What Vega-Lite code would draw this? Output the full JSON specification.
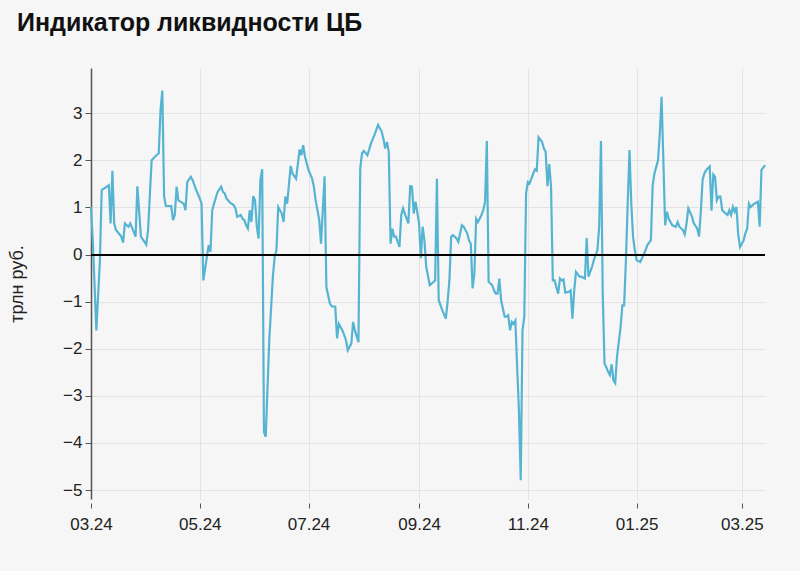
{
  "$schema": "https://vega.github.io/schema/vega-lite/v6.json",
  "width": 674,
  "height": 431,
  "autosize": {"type": "none"},
  "padding": {"left": 91, "top": 68, "right": 35, "bottom": 72},
  "background": "#f6f6f6",
  "title": {
    "text": "Индикатор ликвидности ЦБ",
    "anchor": "start",
    "frame": "group",
    "dx": -74,
    "offset": 12,
    "baseline": "alphabetic",
    "font": "Liberation Sans",
    "fontSize": 25,
    "fontWeight": "bold",
    "color": "#111111"
  },
  "config": {
    "view": {"stroke": null},
    "font": "Liberation Sans",
    "axis": {
      "labelFont": "Liberation Sans",
      "titleFont": "Liberation Sans",
      "labelColor": "#222222",
      "titleColor": "#222222",
      "gridColor": "#e3e3e3",
      "gridWidth": 1,
      "tickColor": "#555555",
      "domainColor": "#555555"
    }
  },
  "data": {
    "values": [
      {"d":"2024-03-01","v":1.01},{"d":"2024-03-02","v":0.30},{"d":"2024-03-04","v":-1.61},{"d":"2024-03-06","v":-0.12},
      {"d":"2024-03-07","v":1.37},{"d":"2024-03-11","v":1.47},{"d":"2024-03-12","v":0.66},{"d":"2024-03-13","v":1.78},
      {"d":"2024-03-14","v":0.66},{"d":"2024-03-15","v":0.52},{"d":"2024-03-18","v":0.38},{"d":"2024-03-19","v":0.25},
      {"d":"2024-03-20","v":0.66},{"d":"2024-03-22","v":0.59},{"d":"2024-03-23","v":0.66},{"d":"2024-03-25","v":0.48},
      {"d":"2024-03-26","v":0.38},{"d":"2024-03-27","v":1.45},{"d":"2024-03-29","v":0.38},{"d":"2024-03-31","v":0.27},
      {"d":"2024-04-01","v":0.21},{"d":"2024-04-02","v":0.52},{"d":"2024-04-04","v":2.0},{"d":"2024-04-06","v":2.08},
      {"d":"2024-04-08","v":2.15},{"d":"2024-04-09","v":3.07},{"d":"2024-04-10","v":3.48},{"d":"2024-04-11","v":1.23},
      {"d":"2024-04-12","v":1.03},{"d":"2024-04-15","v":1.03},{"d":"2024-04-16","v":0.73},{"d":"2024-04-17","v":0.84},
      {"d":"2024-04-18","v":1.44},{"d":"2024-04-19","v":1.15},{"d":"2024-04-22","v":1.08},{"d":"2024-04-23","v":0.94},
      {"d":"2024-04-24","v":1.54},{"d":"2024-04-26","v":1.65},{"d":"2024-04-27","v":1.58},{"d":"2024-04-29","v":1.37},
      {"d":"2024-05-01","v":1.19},{"d":"2024-05-02","v":1.08},{"d":"2024-05-03","v":-0.55},{"d":"2024-05-05","v":-0.05},
      {"d":"2024-05-06","v":0.2},{"d":"2024-05-07","v":0.06},{"d":"2024-05-08","v":0.94},{"d":"2024-05-09","v":1.08},
      {"d":"2024-05-11","v":1.33},{"d":"2024-05-13","v":1.44},{"d":"2024-05-14","v":1.33},{"d":"2024-05-15","v":1.30},
      {"d":"2024-05-16","v":1.19},{"d":"2024-05-18","v":1.10},{"d":"2024-05-20","v":1.05},{"d":"2024-05-21","v":0.98},
      {"d":"2024-05-22","v":0.80},{"d":"2024-05-24","v":0.84},{"d":"2024-05-25","v":0.76},{"d":"2024-05-26","v":0.73},
      {"d":"2024-05-27","v":0.62},{"d":"2024-05-28","v":0.55},{"d":"2024-05-29","v":0.94},{"d":"2024-05-30","v":0.69},
      {"d":"2024-05-31","v":1.24},{"d":"2024-06-01","v":1.15},{"d":"2024-06-02","v":0.59},{"d":"2024-06-03","v":0.34},
      {"d":"2024-06-04","v":1.58},{"d":"2024-06-05","v":1.81},{"d":"2024-06-06","v":-3.77},{"d":"2024-06-07","v":-3.87},
      {"d":"2024-06-09","v":-1.8},{"d":"2024-06-11","v":-0.47},{"d":"2024-06-12","v":-0.05},{"d":"2024-06-13","v":0.09},
      {"d":"2024-06-14","v":1.01},{"d":"2024-06-16","v":0.87},{"d":"2024-06-17","v":0.69},{"d":"2024-06-18","v":1.23},
      {"d":"2024-06-19","v":1.08},{"d":"2024-06-21","v":1.88},{"d":"2024-06-22","v":1.72},{"d":"2024-06-24","v":1.61},
      {"d":"2024-06-26","v":2.23},{"d":"2024-06-27","v":2.11},{"d":"2024-06-28","v":2.32},{"d":"2024-06-29","v":2.08},
      {"d":"2024-07-01","v":1.79},{"d":"2024-07-03","v":1.61},{"d":"2024-07-04","v":1.44},{"d":"2024-07-05","v":1.15},
      {"d":"2024-07-07","v":0.73},{"d":"2024-07-08","v":0.23},{"d":"2024-07-10","v":1.66},{"d":"2024-07-11","v":-0.69},
      {"d":"2024-07-13","v":-1.04},{"d":"2024-07-14","v":-1.1},{"d":"2024-07-16","v":-1.11},{"d":"2024-07-17","v":-1.78},
      {"d":"2024-07-18","v":-1.47},{"d":"2024-07-20","v":-1.61},{"d":"2024-07-21","v":-1.71},{"d":"2024-07-22","v":-1.82},
      {"d":"2024-07-23","v":-2.03},{"d":"2024-07-25","v":-1.89},{"d":"2024-07-26","v":-1.43},{"d":"2024-07-27","v":-1.61},
      {"d":"2024-07-29","v":-1.86},{"d":"2024-07-30","v":1.83},{"d":"2024-07-31","v":2.15},{"d":"2024-08-01","v":2.2},
      {"d":"2024-08-03","v":2.11},{"d":"2024-08-04","v":2.23},{"d":"2024-08-05","v":2.36},{"d":"2024-08-07","v":2.54},
      {"d":"2024-08-09","v":2.75},{"d":"2024-08-11","v":2.61},{"d":"2024-08-12","v":2.46},{"d":"2024-08-13","v":2.25},
      {"d":"2024-08-14","v":2.39},{"d":"2024-08-15","v":2.18},{"d":"2024-08-16","v":0.23},{"d":"2024-08-17","v":0.55},
      {"d":"2024-08-18","v":0.38},{"d":"2024-08-19","v":0.38},{"d":"2024-08-21","v":0.16},{"d":"2024-08-22","v":0.84},
      {"d":"2024-08-23","v":0.98},{"d":"2024-08-24","v":0.87},{"d":"2024-08-26","v":0.66},{"d":"2024-08-27","v":1.45},
      {"d":"2024-08-28","v":1.44},{"d":"2024-08-29","v":0.87},{"d":"2024-08-30","v":1.12},{"d":"2024-09-01","v":0.66},
      {"d":"2024-09-02","v":-0.08},{"d":"2024-09-03","v":0.59},{"d":"2024-09-04","v":0.30},{"d":"2024-09-05","v":-0.26},
      {"d":"2024-09-07","v":-0.65},{"d":"2024-09-08","v":-0.62},{"d":"2024-09-10","v":-0.55},{"d":"2024-09-11","v":1.61},
      {"d":"2024-09-12","v":-0.97},{"d":"2024-09-14","v":-1.18},{"d":"2024-09-16","v":-1.36},{"d":"2024-09-17","v":-1.0},
      {"d":"2024-09-18","v":-0.55},{"d":"2024-09-19","v":0.38},{"d":"2024-09-20","v":0.41},{"d":"2024-09-22","v":0.34},
      {"d":"2024-09-23","v":0.27},{"d":"2024-09-25","v":0.62},{"d":"2024-09-26","v":0.59},{"d":"2024-09-28","v":0.45},
      {"d":"2024-09-29","v":0.30},{"d":"2024-09-30","v":0.23},{"d":"2024-10-01","v":-0.72},{"d":"2024-10-02","v":-0.40},
      {"d":"2024-10-03","v":0.76},{"d":"2024-10-04","v":0.69},{"d":"2024-10-06","v":0.84},{"d":"2024-10-07","v":0.94},
      {"d":"2024-10-08","v":1.12},{"d":"2024-10-09","v":2.41},{"d":"2024-10-10","v":-0.58},{"d":"2024-10-12","v":-0.65},
      {"d":"2024-10-13","v":-0.76},{"d":"2024-10-14","v":-0.83},{"d":"2024-10-15","v":-0.83},{"d":"2024-10-16","v":-0.51},
      {"d":"2024-10-17","v":-0.97},{"d":"2024-10-19","v":-1.32},{"d":"2024-10-20","v":-1.32},{"d":"2024-10-21","v":-1.29},
      {"d":"2024-10-22","v":-1.61},{"d":"2024-10-23","v":-1.43},{"d":"2024-10-24","v":-1.47},{"d":"2024-10-25","v":-1.40},
      {"d":"2024-10-26","v":-2.39},{"d":"2024-10-27","v":-3.31},{"d":"2024-10-28","v":-4.79},{"d":"2024-10-29","v":-1.61},
      {"d":"2024-10-30","v":-1.32},{"d":"2024-10-31","v":1.30},{"d":"2024-11-01","v":1.54},{"d":"2024-11-02","v":1.51},
      {"d":"2024-11-04","v":1.72},{"d":"2024-11-05","v":1.81},{"d":"2024-11-06","v":1.78},{"d":"2024-11-07","v":2.49},
      {"d":"2024-11-09","v":2.39},{"d":"2024-11-10","v":2.25},{"d":"2024-11-11","v":2.18},{"d":"2024-11-12","v":1.45},
      {"d":"2024-11-13","v":1.92},{"d":"2024-11-14","v":1.44},{"d":"2024-11-15","v":-0.55},{"d":"2024-11-16","v":-0.55},
      {"d":"2024-11-17","v":-0.69},{"d":"2024-11-18","v":-0.83},{"d":"2024-11-19","v":-0.51},{"d":"2024-11-20","v":-0.55},
      {"d":"2024-11-21","v":-0.53},{"d":"2024-11-22","v":-0.81},{"d":"2024-11-24","v":-0.79},{"d":"2024-11-25","v":-0.76},
      {"d":"2024-11-26","v":-1.36},{"d":"2024-11-27","v":-0.76},{"d":"2024-11-28","v":-0.37},{"d":"2024-11-30","v":-0.47},
      {"d":"2024-12-01","v":-0.47},{"d":"2024-12-03","v":-0.51},{"d":"2024-12-04","v":0.35},{"d":"2024-12-05","v":-0.47},
      {"d":"2024-12-07","v":-0.26},{"d":"2024-12-08","v":-0.12},{"d":"2024-12-10","v":0.09},{"d":"2024-12-11","v":0.59},
      {"d":"2024-12-12","v":2.41},{"d":"2024-12-13","v":-0.83},{"d":"2024-12-14","v":-2.32},{"d":"2024-12-15","v":-2.39},
      {"d":"2024-12-16","v":-2.49},{"d":"2024-12-17","v":-2.56},{"d":"2024-12-18","v":-2.33},{"d":"2024-12-19","v":-2.67},
      {"d":"2024-12-20","v":-2.73},{"d":"2024-12-21","v":-2.17},{"d":"2024-12-23","v":-1.54},{"d":"2024-12-24","v":-1.08},
      {"d":"2024-12-25","v":-1.08},{"d":"2024-12-26","v":-0.12},{"d":"2024-12-27","v":1.08},{"d":"2024-12-28","v":2.22},
      {"d":"2024-12-29","v":1.08},{"d":"2024-12-30","v":0.38},{"d":"2024-12-31","v":0.09},{"d":"2025-01-01","v":-0.12},
      {"d":"2025-01-03","v":-0.16},{"d":"2025-01-04","v":-0.08},{"d":"2025-01-06","v":0.09},{"d":"2025-01-07","v":0.20},
      {"d":"2025-01-09","v":0.30},{"d":"2025-01-10","v":1.47},{"d":"2025-01-11","v":1.72},{"d":"2025-01-13","v":2.0},
      {"d":"2025-01-14","v":2.57},{"d":"2025-01-15","v":3.35},{"d":"2025-01-17","v":0.62},{"d":"2025-01-18","v":0.91},
      {"d":"2025-01-19","v":0.76},{"d":"2025-01-21","v":0.62},{"d":"2025-01-23","v":0.59},{"d":"2025-01-24","v":0.69},
      {"d":"2025-01-25","v":0.59},{"d":"2025-01-27","v":0.52},{"d":"2025-01-28","v":0.43},{"d":"2025-01-29","v":0.66},
      {"d":"2025-01-30","v":0.98},{"d":"2025-02-01","v":0.81},{"d":"2025-02-02","v":0.67},{"d":"2025-02-04","v":0.55},
      {"d":"2025-02-05","v":0.38},{"d":"2025-02-06","v":0.91},{"d":"2025-02-07","v":1.59},{"d":"2025-02-08","v":1.72},
      {"d":"2025-02-09","v":1.79},{"d":"2025-02-11","v":1.87},{"d":"2025-02-12","v":0.93},{"d":"2025-02-13","v":1.70},
      {"d":"2025-02-14","v":1.65},{"d":"2025-02-15","v":1.15},{"d":"2025-02-16","v":1.23},{"d":"2025-02-17","v":1.23},
      {"d":"2025-02-18","v":0.94},{"d":"2025-02-20","v":0.87},{"d":"2025-02-21","v":0.84},{"d":"2025-02-22","v":0.94},
      {"d":"2025-02-23","v":0.84},{"d":"2025-02-24","v":1.01},{"d":"2025-02-25","v":0.91},{"d":"2025-02-26","v":1.01},
      {"d":"2025-02-27","v":0.41},{"d":"2025-02-28","v":0.16},{"d":"2025-03-02","v":0.30},{"d":"2025-03-03","v":0.45},
      {"d":"2025-03-04","v":0.55},{"d":"2025-03-05","v":1.08},{"d":"2025-03-06","v":1.01},{"d":"2025-03-08","v":1.08},
      {"d":"2025-03-10","v":1.12},{"d":"2025-03-11","v":0.59},{"d":"2025-03-12","v":1.79},{"d":"2025-03-14","v":1.90}
    ]
  },
  "layer": [
    {
      "mark": {"type": "line", "color": "#56b4d3", "strokeWidth": 2.2, "interpolate": "linear"},
      "encoding": {
        "x": {
          "field": "d",
          "type": "temporal",
          "scale": {
            "type": "utc",
            "domain": [
              {"year": 2024, "month": 3, "date": 1, "utc": true},
              {"year": 2025, "month": 3, "date": 14, "utc": true}
            ]
          },
          "axis": {
            "title": null,
            "labelExpr": "utcFormat(datum.value, '%m.%y')",
            "tickCount": {"interval": "month", "step": 2},
            "domain": false,
            "offset": 4,
            "tickSize": 5,
            "labelPadding": 8,
            "labelFontSize": 17,
            "labelFlush": false,
            "labelOverlap": false,
            "grid": true
          }
        },
        "y": {
          "field": "v",
          "type": "quantitative",
          "scale": {"domain": [-5.19, 3.96], "nice": false, "zero": false},
          "axis": {
            "title": "трлн руб.",
            "titleFontSize": 18,
            "titleFontWeight": "normal",
            "titlePadding": 36,
            "values": [-5, -4, -3, -2, -1, 0, 1, 2, 3],
            "labelFontSize": 17,
            "tickSize": 6,
            "labelPadding": 3,
            "domain": true,
            "domainWidth": 1.5,
            "grid": true
          }
        }
      }
    },
    {
      "mark": {"type": "rule", "color": "#000000", "strokeWidth": 1.2},
      "encoding": {"y": {"datum": 0}}
    }
  ]
}
